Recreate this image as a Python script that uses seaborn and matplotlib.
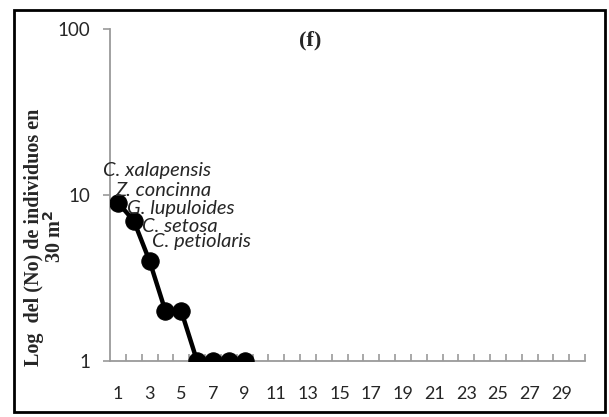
import matplotlib
matplotlib.use("Agg")
import matplotlib.pyplot as plt
import seaborn as sns
import numpy as np
import pandas as pd
from matplotlib.patches import Rectangle
from matplotlib.ticker import FixedLocator, NullFormatter, NullLocator

# Data
ranks = [1, 2, 3, 4, 5, 6, 7, 8, 9]
counts = [9, 7, 4, 2, 2, 1, 1, 1, 1]
species = ["C. xalapensis", "Z. concinna", "G. lupuloides", "C. setosa", "C. petiolaris"]
x_tick_labels = [str(i) for i in range(1, 30, 2)]
y_ticks = [1, 10, 100]
title = "(f)"
ylabel = "Log  del (No) de individuos en\n30 m$^{\\mathbf{2}}$"

sns.set_style("white")
plt.rcParams['font.family'] = ['Lato', 'DejaVu Sans']

W, H = 609, 417
fig = plt.figure(figsize=(W / 100, H / 100), dpi=100)
ax = fig.add_axes([110 / W, 1 - 361 / H, (585 - 110) / W, (361 - 29) / H])

df = pd.DataFrame({"rank": ranks, "count": counts})
sns.lineplot(data=df, x="rank", y="count", ax=ax, color="black", linewidth=3.2,
             marker="o", markersize=12.5, markeredgecolor="black", markerfacecolor="black")

ax.set_yscale("log")
ax.set_ylim(1, 100)
ax.set_xlim(0.5, 30.5)

gray = "#9a9a9a"
for s in ["top", "right"]:
    ax.spines[s].set_visible(False)
for s in ["left", "bottom"]:
    ax.spines[s].set_color(gray)
    ax.spines[s].set_linewidth(1.3)
ax.spines["left"].set_zorder(0)
ax.spines["bottom"].set_zorder(0)

ax.yaxis.set_major_locator(FixedLocator(y_ticks))
ax.yaxis.set_minor_locator(NullLocator())
ax.set_yticklabels([str(v) for v in y_ticks])
ax.tick_params(axis="y", which="major", direction="out", length=5, width=1.2,
               color=gray, pad=9, labelsize=13.5, left=True)

xt = list(range(1, 30, 2))
ax.xaxis.set_major_locator(FixedLocator(xt))
ax.set_xticklabels(x_tick_labels)
ax.tick_params(axis="x", which="major", length=0, pad=18, labelsize=13)
ax.xaxis.set_minor_locator(FixedLocator(np.arange(1.5, 31, 1.0)))
ax.xaxis.set_minor_formatter(NullFormatter())
ax.tick_params(axis="x", which="minor", direction="in", length=5, width=1.2,
               color=gray, bottom=True)

ax.set_xlabel("")
ax.set_ylabel("")

# species labels
label_pos = [(0.05, 14.1), (0.81, 10.6), (1.57, 8.3), (2.52, 6.45), (3.15, 5.24)]
for name, (lx, ly) in zip(species, label_pos):
    ax.text(lx, ly, name, fontsize=14.5, style="italic", ha="left", va="center",
            clip_on=False, zorder=5)

fig.text(310 / W, 1 - 40 / H, title, ha="center", va="center",
         fontsize=16, fontweight="bold", family="Liberation Serif")

fig.text(45 / W, 1 - 237 / H, ylabel, rotation=90, ha="center", va="center",
         multialignment="center", fontsize=14.5, fontweight="bold",
         family="Liberation Serif", linespacing=1.0)

fig.patches.append(Rectangle((14 / W, 1 - 412 / H), (605 - 14) / W, (412 - 10) / H,
                             transform=fig.transFigure, fill=False,
                             edgecolor="black", linewidth=2))

fig.savefig("out.png", dpi=100)
